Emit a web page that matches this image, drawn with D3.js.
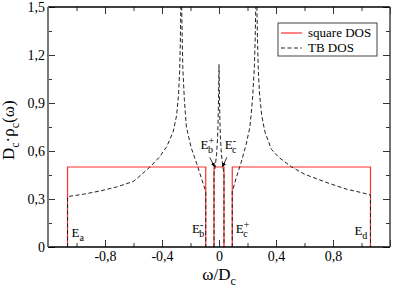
<!DOCTYPE html>
<html>
<head>
<meta charset="utf-8">
<title>square DOS vs TB DOS</title>
<script src="https://cdn.jsdelivr.net/npm/d3@7"></script>
<style>
    body { margin: 0; background: white; }
    svg text { font-family: "Liberation Serif", "DejaVu Serif", serif; }
</style>
</head>
<body>
<script>
// band edges (square DOS), in units of D_c
var sqEdges = [[-1.063, -0.093], [-0.035, 0.035], [0.093, 1.063]];
var sqHeight = [0.5, 0.5, 0.5];

// tight-binding DOS, one array per band
var tbLeft = [[-1.063, 0], [-1.063, 0.315], [-0.95, 0.33], [-0.835, 0.35], [-0.72, 0.375],
    [-0.6, 0.41], [-0.484, 0.5], [-0.42, 0.56], [-0.367, 0.627], [-0.322, 0.72],
    [-0.298, 0.82], [-0.284, 0.95], [-0.276, 1.1], [-0.271, 1.3], [-0.268, 1.5],
    [-0.265, 1.9], [-0.262, 1.5], [-0.258, 1.3], [-0.254, 1.12], [-0.243, 0.92],
    [-0.229, 0.75], [-0.195, 0.62], [-0.156, 0.52], [-0.12, 0.42], [-0.098, 0.36],
    [-0.093, 0.345], [-0.093, 0]];
var tbCenter = [[-0.035, 0], [-0.035, 0.46], [-0.027, 0.5], [-0.017, 0.58], [-0.01, 0.68],
    [-0.006, 0.8], [-0.003, 0.95], [-0.001, 1.08], [0, 1.14], [0.001, 1.08],
    [0.003, 0.95], [0.006, 0.8], [0.01, 0.68], [0.017, 0.58], [0.027, 0.5],
    [0.035, 0.46], [0.035, 0]];
var tbRight = [[0.093, 0], [0.093, 0.345], [0.098, 0.36], [0.12, 0.43], [0.156, 0.53],
    [0.19, 0.64], [0.217, 0.75], [0.235, 0.92], [0.248, 1.12], [0.254, 1.3],
    [0.258, 1.5], [0.262, 1.9], [0.266, 1.5], [0.27, 1.3], [0.276, 1.1],
    [0.285, 0.95], [0.3, 0.82], [0.322, 0.72], [0.368, 0.61], [0.42, 0.56],
    [0.51, 0.5], [0.6, 0.455], [0.765, 0.4], [0.9, 0.36], [1.0, 0.34],
    [1.063, 0.325], [1.063, 0]];

var xTicks = [-1.2, -0.8, -0.4, 0, 0.4, 0.8, 1.2];
var xLabels = ["", "-0,8", "-0,4", "0", "0,4", "0,8", ""];
var xMinor = [-1.0, -0.6, -0.2, 0.2, 0.6, 1.0];
var yTicks = [0, 0.3, 0.6, 0.9, 1.2, 1.5];
var yLabels = ["0", "0,3", "0,6", "0,9", "1,2", "1,5"];
var yMinor = [0.15, 0.45, 0.75, 1.05, 1.35];

var w = 395, h = 289;
var mLeft = 48, mRight = 390, mTop = 7, mBottom = 247;
var serif = "Liberation Serif, DejaVu Serif, serif";

var x = d3.scaleLinear().domain([-1.2, 1.2]).range([mLeft, mRight]);
var y = d3.scaleLinear().domain([0, 1.5]).range([mBottom, mTop]);

var svg = d3.select("body").append("svg")
    .attr("width", w)
    .attr("height", h)
    .attr("font-family", serif);

var defs = svg.append("defs");
defs.append("clipPath").attr("id", "plot")
    .append("rect")
    .attr("x", mLeft).attr("y", mTop)
    .attr("width", mRight - mLeft).attr("height", mBottom - mTop);

defs.append("marker")
    .attr("id", "arrow")
    .attr("viewBox", "0 0 10 10")
    .attr("refX", 9).attr("refY", 5)
    .attr("markerWidth", 6).attr("markerHeight", 6)
    .attr("orient", "auto")
    .append("path")
    .attr("d", "M0,1 L10,5 L0,9 Z")
    .attr("fill", "black");

var line = d3.line()
    .x(function(d) { return x(d[0]); })
    .y(function(d) { return y(d[1]); });

var sqPaths = sqEdges.map(function(e, i) {
    return [[e[0], 0], [e[0], sqHeight[i]], [e[1], sqHeight[i]], [e[1], 0]];
});

var plot = svg.append("g").attr("clip-path", "url(#plot)");

// square DOS (red)
plot.selectAll("path.sq")
    .data(sqPaths)
    .enter()
    .append("path")
    .attr("class", "sq")
    .attr("d", line)
    .attr("fill", "none")
    .attr("stroke", "#ff3030")
    .attr("stroke-width", 1.2);

// TB DOS (dashed)
plot.selectAll("path.tb")
    .data([tbLeft, tbCenter, tbRight])
    .enter()
    .append("path")
    .attr("class", "tb")
    .attr("d", line)
    .attr("fill", "none")
    .attr("stroke", "#222")
    .attr("stroke-width", 1)
    .attr("stroke-dasharray", "4,2.5");

// axes, ticks pointing inwards
function tickAxis(axis, size, vals, labels) {
    return axis.tickValues(vals).tickSize(-size).tickPadding(4)
        .tickFormat(function(d, i) { return labels ? labels[i] : ""; });
}
function addAxis(tr, axis) {
    svg.append("g").attr("class", "axis")
        .attr("transform", tr)
        .call(axis)
        .attr("font-family", serif)
        .attr("font-size", 14);
}

addAxis("translate(0," + mBottom + ")", tickAxis(d3.axisBottom(x), 7, xTicks, xLabels));
addAxis("translate(0," + mBottom + ")", tickAxis(d3.axisBottom(x), 4, xMinor));
addAxis("translate(0," + mTop + ")", tickAxis(d3.axisTop(x), 7, xTicks));
addAxis("translate(0," + mTop + ")", tickAxis(d3.axisTop(x), 4, xMinor));
addAxis("translate(" + mLeft + ",0)", tickAxis(d3.axisLeft(y), 7, yTicks, yLabels).tickPadding(3));
addAxis("translate(" + mLeft + ",0)", tickAxis(d3.axisLeft(y), 4, yMinor));
addAxis("translate(" + mRight + ",0)", tickAxis(d3.axisRight(y), 7, yTicks));
addAxis("translate(" + mRight + ",0)", tickAxis(d3.axisRight(y), 4, yMinor));

svg.selectAll(".axis .domain").remove();
svg.selectAll(".axis .tick line").attr("stroke", "#333");
svg.selectAll(".axis text").attr("fill", "black");

// frame
svg.append("line").attr("x1", mLeft).attr("x2", mRight).attr("y1", mTop).attr("y2", mTop)
    .attr("stroke", "black").attr("stroke-width", 1.5);
svg.append("line").attr("x1", mLeft).attr("x2", mRight).attr("y1", mBottom).attr("y2", mBottom)
    .attr("stroke", "black").attr("stroke-width", 1.5);
svg.append("line").attr("x1", mLeft).attr("x2", mLeft).attr("y1", mTop).attr("y2", mBottom)
    .attr("stroke", "#777").attr("stroke-width", 2);
svg.append("line").attr("x1", mRight).attr("x2", mRight).attr("y1", mTop).attr("y2", mBottom)
    .attr("stroke", "#444").attr("stroke-width", 1.5);

// axis titles
var xt = svg.append("text")
    .attr("x", x(0)).attr("y", 280)
    .attr("text-anchor", "middle")
    .attr("font-size", 17);
xt.append("tspan").text("ω/D");
xt.append("tspan").attr("dy", 5).attr("font-size", 12).text("c");

var yt = svg.append("text")
    .attr("transform", "translate(14," + y(0.73) + ") rotate(-90)")
    .attr("text-anchor", "middle")
    .attr("font-size", 17);
yt.append("tspan").text("D");
yt.append("tspan").attr("dy", 5).attr("font-size", 12).text("c");
yt.append("tspan").attr("dy", -5).text("·ρ");
yt.append("tspan").attr("dy", 5).attr("font-size", 12).text("c");
yt.append("tspan").attr("dy", -5).text("(ω)");

// band edge labels
function edgeLabel(px, py, sub, sup) {
    var t = svg.append("text").attr("x", px).attr("y", py).attr("font-size", 13);
    t.append("tspan").text("E");
    if (sup) {
        t.append("tspan").attr("dy", -5).attr("font-size", 10).text(sup);
        t.append("tspan").attr("dx", sup === "+" ? -6 : -4).attr("dy", 9).attr("font-size", 10).text(sub);
    } else {
        t.append("tspan").attr("dy", 4).attr("font-size", 10).text(sub);
    }
}
edgeLabel(x(-1.035), y(0.06), "a");
edgeLabel(x(-0.19), y(0.09), "b", "-");
edgeLabel(x(0.117), y(0.09), "c", "+");
edgeLabel(x(0.95), y(0.075), "d");
edgeLabel(x(-0.13), y(0.61), "b", "+");
edgeLabel(x(0.04), y(0.61), "c", "-");

// arrows from the inner labels to the central band
var arrows = [[[-0.065, 0.56], [-0.03, 0.5]], [[0.055, 0.56], [0.024, 0.5]]];
svg.selectAll("line.arrow")
    .data(arrows)
    .enter()
    .append("line")
    .attr("class", "arrow")
    .attr("x1", function(d) { return x(d[0][0]); })
    .attr("y1", function(d) { return y(d[0][1]); })
    .attr("x2", function(d) { return x(d[1][0]); })
    .attr("y2", function(d) { return y(d[1][1]); })
    .attr("stroke", "black")
    .attr("stroke-width", 0.8)
    .attr("marker-end", "url(#arrow)");

// legend
var lg = svg.append("g").attr("transform", "translate(278,23)");
lg.append("rect").attr("width", 99).attr("height", 33)
    .attr("fill", "white").attr("stroke", "#444").attr("stroke-width", 1);
lg.append("line").attr("x1", 3).attr("x2", 24).attr("y1", 10).attr("y2", 10)
    .attr("stroke", "#ff3030").attr("stroke-width", 1.2);
lg.append("text").attr("x", 30).attr("y", 14).attr("font-size", 13).text("square DOS");
lg.append("line").attr("x1", 3).attr("x2", 24).attr("y1", 25).attr("y2", 25)
    .attr("stroke", "#222").attr("stroke-width", 1).attr("stroke-dasharray", "4,2.5");
lg.append("text").attr("x", 30).attr("y", 29).attr("font-size", 13).text("TB DOS");
</script>
</body>
</html>
